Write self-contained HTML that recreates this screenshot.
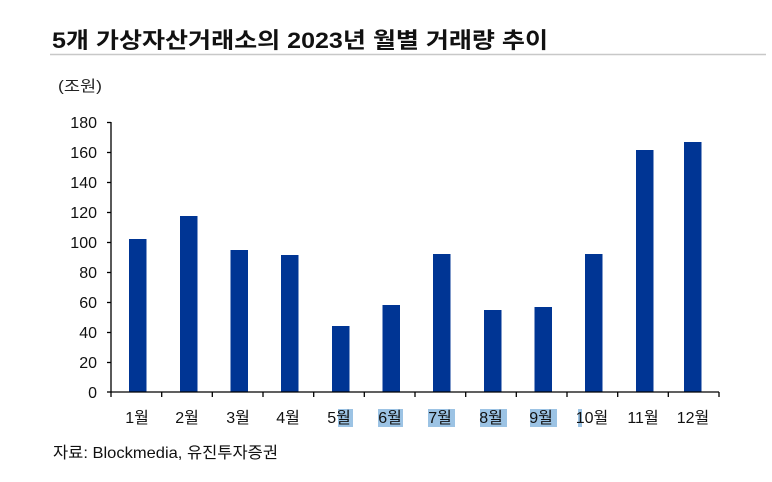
<!DOCTYPE html>
<html><head><meta charset="utf-8"><style>
body{margin:0;background:#fff;}
svg{display:block;font-family:"Liberation Sans","Noto Sans CJK KR",sans-serif;}
</style></head><body>
<svg width="772" height="482" viewBox="0 0 772 482" xmlns="http://www.w3.org/2000/svg">
<text x="52" y="48" font-size="22" font-weight="bold" fill="#111" textLength="496" lengthAdjust="spacingAndGlyphs">5개 가상자산거래소의 2023년 월별 거래량 추이</text>
<line x1="50" y1="54.5" x2="766" y2="54.5" stroke="#c8c8c8" stroke-width="1.5"/>
<text x="58" y="91" font-size="15" fill="#222" textLength="44" lengthAdjust="spacingAndGlyphs">(조원)</text>
<g font-size="16" fill="#111" text-anchor="end">
<text x="97" y="128">180</text><text x="97" y="158">160</text><text x="97" y="188">140</text>
<text x="97" y="218">120</text><text x="97" y="248">100</text><text x="97" y="278">80</text>
<text x="97" y="308">60</text><text x="97" y="338">40</text><text x="97" y="368">20</text>
<text x="97" y="398">0</text>
</g>
<g stroke="#000" stroke-width="1.3">
<line x1="111" y1="122" x2="111" y2="392"/>
<line x1="107" y1="122.5" x2="111" y2="122.5"/><line x1="107" y1="152.5" x2="111" y2="152.5"/>
<line x1="107" y1="182.5" x2="111" y2="182.5"/><line x1="107" y1="212.5" x2="111" y2="212.5"/>
<line x1="107" y1="242.5" x2="111" y2="242.5"/><line x1="107" y1="272.5" x2="111" y2="272.5"/>
<line x1="107" y1="302.5" x2="111" y2="302.5"/><line x1="107" y1="332.5" x2="111" y2="332.5"/>
<line x1="107" y1="362.5" x2="111" y2="362.5"/><line x1="107" y1="392" x2="111" y2="392"/>
</g>
<g fill="#003594">
<rect x="129" y="239" width="17.5" height="153"/>
<rect x="180" y="216" width="17.5" height="176"/>
<rect x="230.5" y="250" width="17.5" height="142"/>
<rect x="281" y="255" width="17.5" height="137"/>
<rect x="332" y="326" width="17.5" height="66"/>
<rect x="382.5" y="305" width="17.5" height="87"/>
<rect x="433" y="254" width="17.5" height="138"/>
<rect x="484" y="310" width="17.5" height="82"/>
<rect x="534.5" y="307" width="17.5" height="85"/>
<rect x="585" y="254" width="17.5" height="138"/>
<rect x="636" y="150" width="17.5" height="242"/>
<rect x="684" y="142" width="17.5" height="250"/>
</g>
<g stroke="#000" stroke-width="1.3">
<line x1="111" y1="392" x2="719" y2="392"/>
<line x1="111" y1="392" x2="111" y2="397"/><line x1="161.7" y1="392" x2="161.7" y2="397"/>
<line x1="212.3" y1="392" x2="212.3" y2="397"/><line x1="263" y1="392" x2="263" y2="397"/>
<line x1="313.7" y1="392" x2="313.7" y2="397"/><line x1="364.3" y1="392" x2="364.3" y2="397"/>
<line x1="415" y1="392" x2="415" y2="397"/><line x1="465.7" y1="392" x2="465.7" y2="397"/>
<line x1="516.3" y1="392" x2="516.3" y2="397"/><line x1="567" y1="392" x2="567" y2="397"/>
<line x1="617.7" y1="392" x2="617.7" y2="397"/><line x1="668.3" y1="392" x2="668.3" y2="397"/>
<line x1="719" y1="392" x2="719" y2="397"/>
</g>
<g fill="#9cc3e4">
<rect x="338" y="409" width="15" height="18"/>
<rect x="378" y="409" width="25" height="18"/>
<rect x="428" y="409" width="27" height="18"/>
<rect x="480" y="409" width="27" height="18"/>
<rect x="530" y="409" width="27" height="18"/>
<rect x="578" y="409" width="4" height="18"/>
</g>
<g font-size="16" fill="#111" text-anchor="middle">
<text x="137" y="423">1월</text><text x="187" y="423">2월</text><text x="238" y="423">3월</text>
<text x="288" y="423">4월</text><text x="339" y="423">5월</text><text x="390" y="423">6월</text>
<text x="440" y="423">7월</text><text x="491" y="423">8월</text><text x="541" y="423">9월</text>
<text x="592" y="423">10월</text><text x="643" y="423">11월</text><text x="693" y="423">12월</text>
</g>
<text x="53" y="458" font-size="16" fill="#111" textLength="225" lengthAdjust="spacingAndGlyphs">자료: Blockmedia, 유진투자증권</text>
</svg>
</body></html>
